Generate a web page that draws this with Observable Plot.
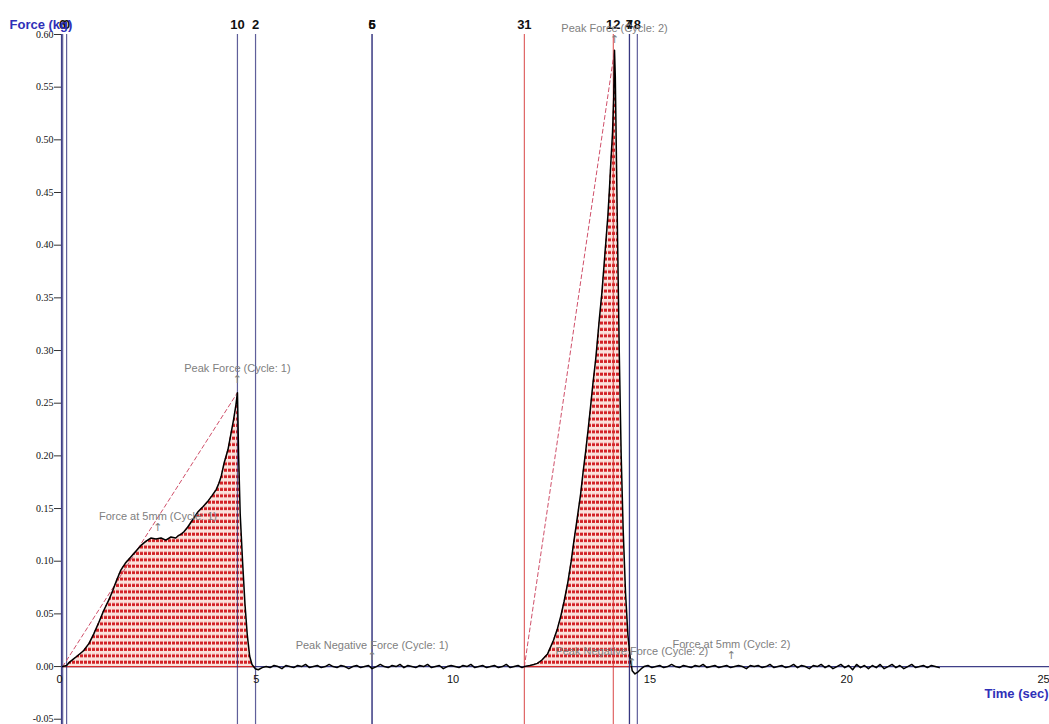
<!DOCTYPE html>
<html>
<head>
<meta charset="utf-8">
<script src="https://cdn.jsdelivr.net/npm/d3@7"></script>
<script src="https://cdn.jsdelivr.net/npm/@observablehq/plot@0.6"></script>
<style>
  html, body { margin: 0; padding: 0; background: #fff; }
  #chart { width: 1049px; height: 724px; overflow: hidden; }
</style>
</head>
<body>
<div id="chart"></div>
<script>
// ---- Data (time in sec, force in kg) ----
const cycle1 = [
  [0.03,0.000],[0.13,0.001],[0.20,0.004],[0.30,0.007],[0.40,0.010],[0.56,0.015],[0.70,0.022],
  [0.82,0.031],[0.95,0.042],[1.07,0.053],[1.20,0.063],[1.30,0.072],[1.40,0.082],[1.50,0.091],
  [1.62,0.098],[1.76,0.104],[1.90,0.110],[2.02,0.115],[2.15,0.119],[2.27,0.122],[2.40,0.121],
  [2.53,0.122],[2.65,0.120],[2.78,0.123],[2.90,0.122],[2.96,0.124],[3.05,0.126],[3.11,0.128],
  [3.20,0.132],[3.29,0.137],[3.38,0.142],[3.47,0.147],[3.60,0.152],[3.72,0.157],[3.82,0.162],
  [3.93,0.168],[4.00,0.174],[4.06,0.181],[4.13,0.193],[4.23,0.206],[4.30,0.220],[4.37,0.234],
  [4.43,0.248],[4.47,0.260],[4.50,0.200],[4.54,0.145],[4.60,0.100],[4.66,0.060],[4.72,0.030],
  [4.78,0.010],[4.84,0.002],[4.92,-0.002]
];
const rest = [
  [5.0,-0.003],[5.1,-0.001],[5.2,0.000],[5.3,-0.001],[5.4,0.001],[5.5,0.000],[5.6,-0.002],[5.7,0.001],
  [5.8,0.000],[5.9,-0.001],[6.0,0.001],[6.1,0.000],[6.2,0.002],[6.3,-0.001],[6.4,0.000],[6.5,0.001],
  [6.6,-0.001],[6.7,0.000],[6.8,0.002],[6.9,0.000],[7.0,-0.001],[7.1,0.001],[7.2,0.000],[7.3,-0.002],
  [7.4,0.000],[7.5,0.001],[7.6,-0.001],[7.7,0.000],[7.8,0.001],[7.89,-0.002],[8.0,0.000],[8.1,0.002],
  [8.2,0.000],[8.3,-0.001],[8.4,0.001],[8.5,0.000],[8.6,0.002],[8.7,-0.001],[8.8,0.001],[8.9,0.000],
  [9.0,-0.001],[9.1,0.001],[9.2,0.000],[9.3,0.002],[9.4,-0.001],[9.5,0.000],[9.6,0.001],[9.7,-0.002],
  [9.8,0.000],[9.9,0.001],[10.0,0.000],[10.1,-0.001],[10.2,0.001],[10.3,0.000],[10.4,0.002],[10.5,-0.001],
  [10.6,0.000],[10.7,0.001],[10.8,-0.001],[10.9,0.000],[11.0,0.001],[11.1,-0.001],[11.2,0.000],[11.3,0.002],
  [11.4,-0.001],[11.5,0.000],[11.6,0.001],[11.7,-0.001]
];
const cycle2 = [
  [11.76,0.000],[11.90,0.001],[12.00,0.002],[12.09,0.003],[12.20,0.006],[12.35,0.012],[12.50,0.025],
  [12.60,0.036],[12.68,0.047],[12.77,0.062],[12.86,0.079],[12.95,0.100],[13.01,0.117],[13.10,0.140],
  [13.19,0.164],[13.25,0.184],[13.32,0.205],[13.38,0.225],[13.44,0.246],[13.50,0.268],[13.57,0.291],
  [13.62,0.311],[13.67,0.332],[13.73,0.355],[13.78,0.379],[13.83,0.403],[13.88,0.427],[13.92,0.452],
  [13.95,0.474],[14.00,0.507],[14.03,0.540],[14.05,0.585],[14.07,0.560],[14.10,0.480],[14.13,0.400],
  [14.17,0.300],[14.22,0.200],[14.27,0.130],[14.33,0.070],[14.39,0.030],[14.45,0.008],[14.50,-0.004],
  [14.57,-0.007],[14.65,-0.005],[14.73,-0.002],[14.80,0.000]
];
const tail = [
  [14.9,0.001],[15.0,-0.001],[15.1,0.000],[15.2,0.001],[15.3,-0.001],[15.4,0.000],[15.5,0.002],[15.6,0.000],
  [15.7,-0.001],[15.8,0.001],[15.9,0.000],[16.0,-0.001],[16.1,0.001],[16.2,0.000],[16.3,0.002],[16.4,-0.001],
  [16.5,0.000],[16.6,0.001],[16.7,-0.001],[16.8,0.000],[16.9,0.001],[17.0,-0.001],[17.1,0.000],[17.2,0.001],
  [17.3,0.000],[17.4,-0.002],[17.5,0.001],[17.6,0.000],[17.7,0.001],[17.8,-0.001],[17.9,0.000],[18.0,0.002],
  [18.1,-0.001],[18.2,0.000],[18.3,0.001],[18.4,-0.001],[18.5,0.000],[18.6,0.002],[18.7,-0.001],[18.8,0.001],
  [18.9,0.000],[19.0,-0.002],[19.1,0.001],[19.2,0.000],[19.3,0.002],[19.4,-0.001],[19.5,0.001],[19.6,-0.002],
  [19.7,0.000],[19.8,0.002],[19.9,-0.001],[20.0,0.001],[20.1,-0.003],[20.2,0.002],[20.3,-0.001],[20.4,0.001],
  [20.5,-0.002],[20.6,0.001],[20.7,-0.001],[20.8,0.002],[20.9,-0.002],[21.0,0.000],[21.1,0.002],[21.2,-0.001],
  [21.3,0.001],[21.4,-0.002],[21.5,0.000],[21.6,0.002],[21.7,-0.001],[21.8,0.000],[21.9,0.001],[22.0,-0.001],
  [22.1,0.001],[22.2,0.000],[22.3,-0.001]
];
// straight-line (gradient) references from start to peak
const gradient1 = [[0.03,0.000],[4.47,0.260]];
const gradient2 = [[11.76,0.000],[14.05,0.585]];

// vertical event markers
const markerTime  = [0.03, 0.13, 4.47, 4.93, 7.89, 7.89, 11.76, 14.02, 14.43, 14.43, 14.63];
const markerLabel = ["6", "0", "10", "2", "5", "6", "31", "12", "7", "4", "8"];
const markerGroup = ["limit","limit","limit","limit","limit","limit","start","start","limit","limit","limit"];

// annotations
const annoLabel = ["Peak Force (Cycle: 1)", "Force at 5mm (Cycle: 1)", "Peak Negative Force (Cycle: 1)",
                   "Peak Force (Cycle: 2)", "Peak Negative Force (Cycle: 2)", "Force at 5mm (Cycle: 2)"];
const annoTime  = [4.47, 2.45, 7.89, 14.05, 14.49, 17.02];
const annoForce = [0.262, 0.122, -0.001, 0.585, -0.007, 0.000];

const xTicks = [0, 5, 10, 15, 20, 25];
const yTicks = [-0.05, 0.00, 0.05, 0.10, 0.15, 0.20, 0.25, 0.30, 0.35, 0.40, 0.45, 0.50, 0.55, 0.60];

// ---- Build tables ----
const toRows = arr => arr.map(([t, f]) => ({t, f}));
const curve = toRows([...cycle1, ...rest, ...cycle2, ...tail]);
const fill1 = toRows(cycle1).map(d => ({t: d.t, f: Math.max(0, d.f)}));
const fill2 = toRows(cycle2).filter(d => d.t <= 14.50).map(d => ({t: d.t, f: Math.max(0, d.f)}));
const fillRanges = [fill1, fill2].map(a => ({x1: a[0].t, x2: a[a.length - 1].t}));
const markers = markerTime.map((t, i) => ({t, label: markerLabel[i], group: markerGroup[i]}));
const annos = annoLabel.map((label, i) => ({label, t: annoTime[i], f: annoForce[i]}));

const NAVY = "#3f3f88";
const RED = "#d42a2a";
const GRAY = "#808080";
const BLUE_TXT = "#2f2fb8";

const plot = Plot.plot({
  width: 1049,
  height: 724,
  marginLeft: 61,
  marginRight: 4,
  marginTop: 34,
  marginBottom: 0,
  x: {domain: [0, 25], axis: null},
  y: {domain: [-0.055, 0.6], axis: null},
  color: {domain: ["limit", "start"], range: ["#2a2a78", "#d43030"]},
  style: {fontFamily: "'Liberation Sans', Arial, sans-serif", background: "white", overflow: "visible"},
  marks: [
    Plot.areaY(fill1, {x: "t", y: "f", fill: "url(#hatch)"}),
    Plot.areaY(fill2, {x: "t", y: "f", fill: "url(#hatch)"}),
    Plot.ruleY([0], {x1: 0, x2: 25.2, stroke: NAVY, strokeWidth: 1.2}),
    Plot.ruleY(fillRanges, {y: 0, x1: "x1", x2: "x2", stroke: RED, strokeWidth: 1.2}),
    Plot.ruleX([0], {stroke: NAVY, strokeWidth: 1.2}),
    Plot.axisY({ticks: yTicks, tickFormat: d => d.toFixed(2), tickSize: 7, tickPadding: 1, label: null,
                fontFamily: "'Liberation Serif', serif", fontSize: 10, fill: "#111", stroke: "#333"}),
    Plot.ruleX(markers, {x: "t", stroke: "group", strokeOpacity: 0.75, strokeWidth: 1.2}),
    Plot.text(markers, {x: "t", text: "label", frameAnchor: "top", dy: -15, fontWeight: "bold",
                        fontSize: 13, fill: "#111"}),
    Plot.line(toRows(gradient1), {x: "t", y: "f", stroke: "#d0506a", strokeWidth: 1, strokeDasharray: "4,3"}),
    Plot.line(toRows(gradient2), {x: "t", y: "f", stroke: "#d0506a", strokeWidth: 1, strokeDasharray: "4,3"}),
    Plot.line(curve, {x: "t", y: "f", stroke: "#000", strokeWidth: 1.5}),
    Plot.text(annos, {x: "t", y: "f", text: "label", dy: -22, fontSize: 11, fill: GRAY}),
    Plot.text(annos, {x: "t", y: "f", text: () => "\u2191", dy: -11, fontSize: 11,
                      fontFamily: "'DejaVu Sans', sans-serif", fill: GRAY}),
    Plot.text(xTicks, {x: d => d, y: 0, text: d => String(d), dy: 13, dx: -2, fontSize: 11, fill: "#111"}),
    Plot.text(["Force (kg)"], {frameAnchor: "top-left", dx: -52, dy: -15, textAnchor: "start",
                               fontWeight: "bold", fontSize: 13, fill: BLUE_TXT}),
    Plot.text(["Time (sec)"], {x: 25, y: 0, dx: 3, dy: 27, textAnchor: "end",
                               fontWeight: "bold", fontSize: 13, fill: BLUE_TXT})
  ]
});

// hatch pattern definition
const ns = "http://www.w3.org/2000/svg";
const defs = document.createElementNS(ns, "defs");
const pat = document.createElementNS(ns, "pattern");
pat.setAttribute("id", "hatch");
pat.setAttribute("patternUnits", "userSpaceOnUse");
pat.setAttribute("width", "4");
pat.setAttribute("height", "6.4");
const bg = document.createElementNS(ns, "rect");
bg.setAttribute("width", "4"); bg.setAttribute("height", "6.4"); bg.setAttribute("fill", "#fbe2dc");
const dash = document.createElementNS(ns, "rect");
dash.setAttribute("y", "1.5"); dash.setAttribute("width", "3"); dash.setAttribute("height", "3"); dash.setAttribute("fill", "#d21f24");
pat.appendChild(bg); pat.appendChild(dash);
defs.appendChild(pat);
plot.insertBefore(defs, plot.firstChild);

document.getElementById("chart").appendChild(plot);
</script>
</body>
</html>
